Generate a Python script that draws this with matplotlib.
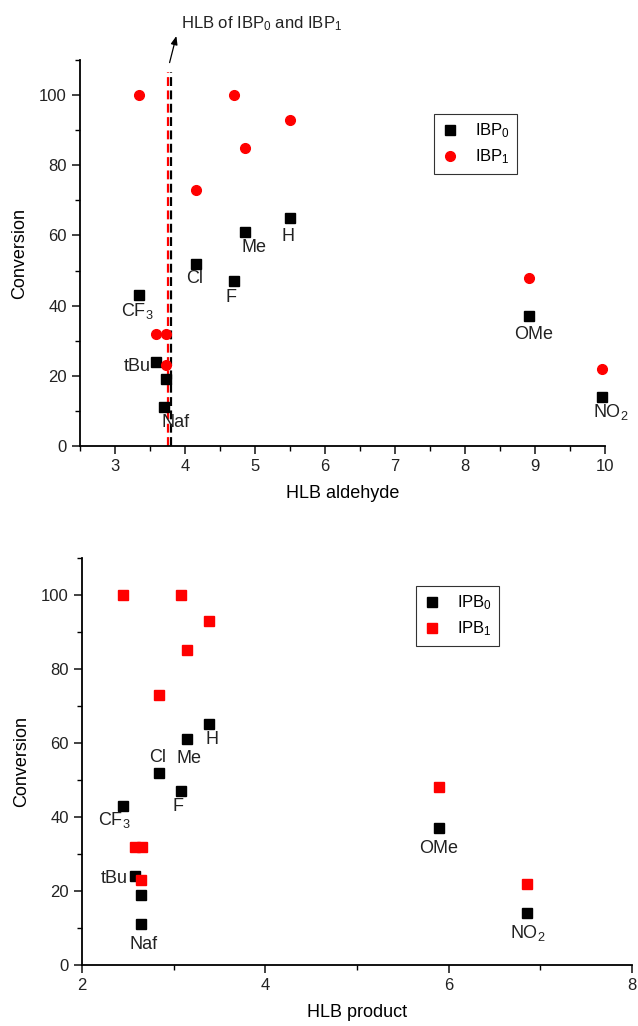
import matplotlib
matplotlib.use("Agg")
import matplotlib.pyplot as plt
from matplotlib.ticker import MultipleLocator

plt.rcParams["font.family"] = ["Liberation Sans", "DejaVu Sans"]
plt.rcParams["mathtext.fontset"] = "custom"
plt.rcParams["mathtext.rm"] = "Liberation Sans"
plt.rcParams["mathtext.it"] = "Liberation Sans"

# substituent names shared by both panels
SUBSTITUENTS = ["CF$_3$", "tBu", "", "Naf", "Cl", "F", "Me", "H", "OMe", "NO$_2$"]

# top panel: conversion vs HLB of the aldehyde
ALD_X0 = [3.34, 3.59, 3.73, 3.70, 4.16, 4.70, 4.86, 5.50, 8.91, 9.96]
ALD_Y0 = [43, 24, 19, 11, 52, 47, 61, 65, 37, 14]
ALD_X1 = [3.34, 4.70, 5.50, 4.86, 4.16, 3.58, 3.73, 3.73, 8.91, 9.96]
ALD_Y1 = [100, 100, 93, 85, 73, 32, 32, 23, 48, 22]
HLB_IBP0 = 3.80
HLB_IBP1 = 3.755

# bottom panel: conversion vs HLB of the product
PRD_X0 = [2.45, 2.58, 2.64, 2.64, 2.84, 3.08, 3.15, 3.39, 5.89, 6.86]
PRD_Y0 = [43, 24, 19, 11, 52, 47, 61, 65, 37, 14]
PRD_X1 = [2.45, 3.08, 3.39, 3.15, 2.84, 2.58, 2.65, 2.64, 5.89, 6.86]
PRD_Y1 = [100, 100, 93, 85, 73, 32, 32, 23, 48, 22]

# label offsets in points (text centre relative to the marker)
TOP_OFFSETS = [(-1, -11.5), (-14, -3.6), (0, 0), (8, -11), (-1.4, -11), (-2.2, -11.5),
               (6.5, -11.5), (-1.4, -13.5), (3.6, -13.5), (6, -11)]
BOT_OFFSETS = [(-6.5, -10), (-15, -1.4), (0, 0), (2.2, -14.4), (-0.7, 10.8), (-2.2, -10.8),
               (1.4, -13.7), (2.2, -10.8), (0, -15), (0, -14.4)]


def style_axes(ax):
    for side in ("top", "right"):
        ax.spines[side].set_visible(False)
    for side in ("left", "bottom"):
        ax.spines[side].set_linewidth(1.3)
    ax.tick_params(which="major", direction="out", length=6, width=1.2, labelsize=12, colors="#222222")
    ax.tick_params(which="minor", direction="out", length=3.5, width=1.0)
    ax.yaxis.set_major_locator(MultipleLocator(20))
    ax.yaxis.set_minor_locator(MultipleLocator(10))
    ax.set_ylim(0, 110)
    ax.set_ylabel("Conversion", fontsize=13, labelpad=8)


def add_labels(ax, xs, ys, offsets):
    for name, x, y, (dx, dy) in zip(SUBSTITUENTS, xs, ys, offsets):
        if not name:
            continue
        ax.annotate(name, xy=(x, y), xytext=(dx, dy), textcoords="offset points",
                    ha="center", va="center", fontsize=13, color="#222222",
                    annotation_clip=False)


def add_legend(ax, anchor):
    leg = ax.legend(loc="upper left", bbox_to_anchor=anchor, fontsize=12, frameon=True,
                    fancybox=False, edgecolor="black", handlelength=1.0, handletextpad=1.0,
                    borderpad=0.45, labelspacing=0.45, borderaxespad=0)
    leg.get_frame().set_linewidth(0.8)


fig = plt.figure(figsize=(6.38, 10.26), dpi=100)

# ---- top panel ----
ax1 = fig.add_axes([0.1254, 0.5653, 0.8229, 0.3762])
style_axes(ax1)
ax1.set_xlim(2.5, 10)
ax1.xaxis.set_major_locator(MultipleLocator(1))
ax1.xaxis.set_minor_locator(MultipleLocator(0.5))

ax1.plot([HLB_IBP1, HLB_IBP1], [0, 106.5], color="red", lw=1.6, dashes=(4, 2), zorder=1)
ax1.plot([HLB_IBP0, HLB_IBP0], [0, 106.5], color="black", lw=1.6, dashes=(4, 2), zorder=1)

ax1.plot(ALD_X0, ALD_Y0, ls="none", marker="s", ms=6.5, color="black", label="IBP$_0$",
         zorder=3, clip_on=False)
ax1.plot(ALD_X1, ALD_Y1, ls="none", marker="o", ms=7, color="red", label="IBP$_1$",
         zorder=3, clip_on=False)
add_labels(ax1, ALD_X0, ALD_Y0, TOP_OFFSETS)

ax1.annotate("", xy=(3.886, 117.6), xytext=(3.77, 108.5), annotation_clip=False,
             arrowprops=dict(arrowstyle="-|>,head_length=0.5,head_width=0.2", color="black", lw=0.9))
ax1.text(3.94, 120.5, "HLB of IBP$_0$ and IBP$_1$", fontsize=12, va="center", ha="left",
         color="#222222", clip_on=False)

ax1.set_xlabel("HLB aldehyde", fontsize=13, labelpad=8)
add_legend(ax1, (0.674, 0.86))

# ---- bottom panel ----
ax2 = fig.add_axes([0.1285, 0.0595, 0.862, 0.3967])
style_axes(ax2)
ax2.set_xlim(2, 8)
ax2.xaxis.set_major_locator(MultipleLocator(2))
ax2.xaxis.set_minor_locator(MultipleLocator(1))

ax2.plot(PRD_X0, PRD_Y0, ls="none", marker="s", ms=6.5, color="black", label="IPB$_0$",
         zorder=3, clip_on=False)
ax2.plot(PRD_X1, PRD_Y1, ls="none", marker="s", ms=6.5, color="red", label="IPB$_1$",
         zorder=3, clip_on=False)
add_labels(ax2, PRD_X0, PRD_Y0, BOT_OFFSETS)

ax2.set_xlabel("HLB product", fontsize=13, labelpad=8)
add_legend(ax2, (0.607, 0.931))

fig.savefig("out.png", dpi=100)
